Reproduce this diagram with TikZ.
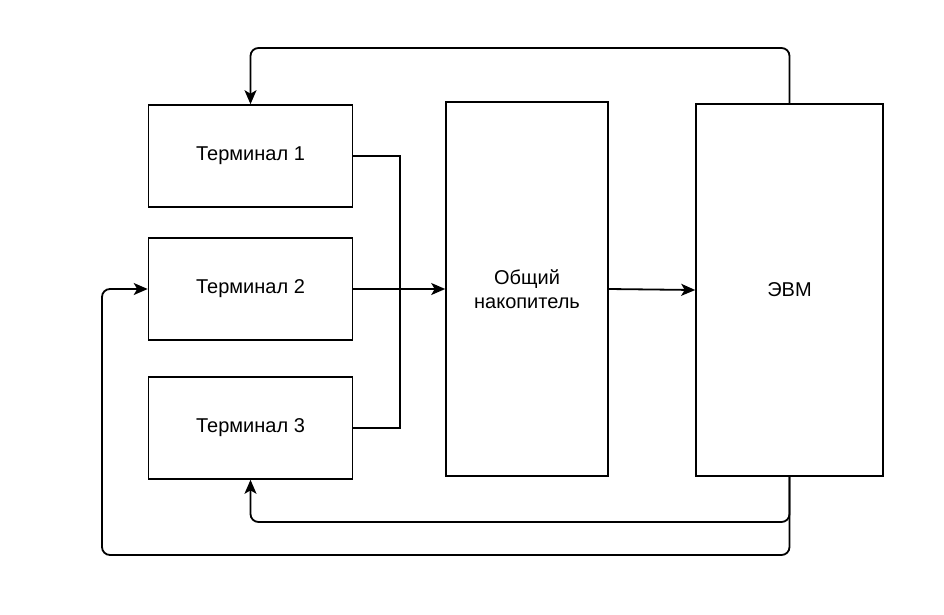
\documentclass[tikz,border=0pt]{standalone}
\usepackage{fontspec}
\setmainfont{Liberation Sans}
\usetikzlibrary{arrows.meta}

\tikzset{
  blok/.style={draw, line width=1.6pt, inner sep=0pt, align=center,
    font=\fontsize{20}{24}\selectfont},
  link/.style={line width=1.8pt, rounded corners=8pt},
  strelka/.style={link, -{Stealth[length=14pt,width=12pt,inset=3.5pt]}}
}

\begin{document}
\begin{tikzpicture}[x=1pt,y=-1pt]
        \useasboundingbox (0,0) rectangle (944,614);

        % Терминалы
        \node[blok, minimum width=204pt, minimum height=102pt] (t1) at (250.5,156) {Терминал 1};
        \node[blok, minimum width=204pt, minimum height=102pt] (t2) at (250.5,289) {Терминал 2};
        \node[blok, minimum width=204pt, minimum height=102pt] (t3) at (250.5,428) {Терминал 3};

        % Накопитель и ЭВМ
        \node[blok, minimum width=162pt, minimum height=374pt] (nak) at (527,289) {Общий\\накопитель};
        \node[blok, minimum width=187pt, minimum height=372pt] (evm) at (789.5,290) {ЭВМ};

        % точка слияния линий от терминалов
        \coordinate (jn) at (400,289);

        \draw[link, sharp corners] (t1.east) -| (jn);
        \draw[link, sharp corners] (t3.east) -| (jn);
        \draw[strelka] (t2.east) -- (nak.west);
        \draw[strelka] (nak.east) -- (evm.west);

        % обратные связи
        \draw[strelka] (evm.north) -- (evm.north |- 0,48) -- (t1.north |- 0,48) -- (t1.north);
        \draw[strelka] (evm.south) -- (evm.south |- 0,522) -- (t3.south |- 0,522) -- (t3.south);
        \draw[strelka] (evm.south) -- (evm.south |- 0,555) -- (102,555) -- (102,289) -- (t2.west);

    \end{tikzpicture}
\end{document}
